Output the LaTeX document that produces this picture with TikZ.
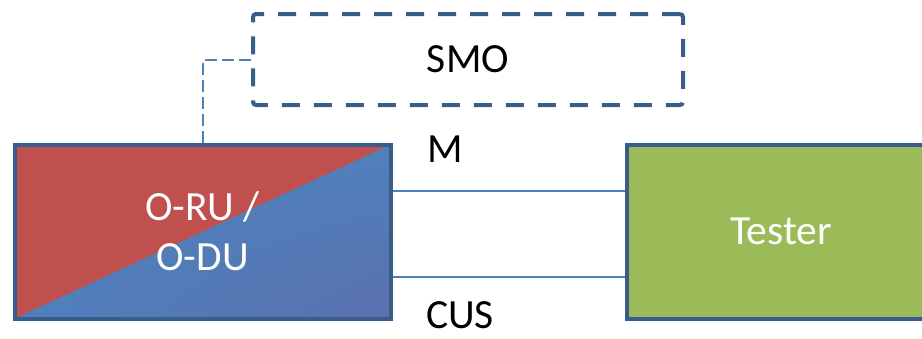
\documentclass[tikz,border=0pt]{standalone}
\usepackage{fontspec}
\setmainfont{Carlito}
\usetikzlibrary{shadings}
\definecolor{edgeblue}{HTML}{385D8A}
\definecolor{linkblue}{HTML}{4F81BD}
\definecolor{ranred}{HTML}{C0504D}
\definecolor{ranblue}{HTML}{4F81BD}
\definecolor{ranblue2}{HTML}{5A70AD}
\definecolor{testgreen}{HTML}{9BBB59}
\tikzset{
  bigtext/.style={font=\fontsize{41.5}{50}\selectfont},
  unitbox/.style={draw=edgeblue, line width=4pt, inner sep=0pt, bigtext, text=white, align=center},
  smobox/.style={draw=edgeblue, line width=4pt, dash pattern=on 18pt off 14pt, rounded corners=3pt, inner sep=0pt, bigtext},
  link/.style={draw=linkblue, line width=2pt},
  mgmtlink/.style={draw=linkblue, line width=2pt, dash pattern=on 12pt off 5pt},
  portlabel/.style={bigtext, inner sep=0pt, anchor=base west}
}
\begin{document}
\begin{tikzpicture}[x=1pt, y=-1pt]
\useasboundingbox (0,0) rectangle (922,338);
\begin{scope}
\clip (0,0) rectangle (922,338);
% O-RU / O-DU unit, split diagonally
\node[unitbox, minimum width=376pt, minimum height=174pt,
  path picture={
    \shade[upper left=ranblue, upper right=ranblue, lower left=ranblue, lower right=ranblue2]
      (path picture bounding box.south west) rectangle (path picture bounding box.north east);
    \fill[ranred] (path picture bounding box.south west) -- (path picture bounding box.north west)
      -- (path picture bounding box.north east) -- cycle;
  }] (oran) at (202.5,231.5) {O-RU /\\O-DU};
% Tester, running off the right edge
\node[unitbox, fill=testgreen, minimum width=308pt, minimum height=174pt] (tester) at (781,231.5) {Tester};
% SMO
\node[smobox, minimum width=430pt, minimum height=91pt] (smo) at (468,59.5) {SMO};
% links
\draw[link] (oran.east |- 0,190.5) -- (tester.west |- 0,190.5);
\draw[link] (oran.east |- 0,277) -- (tester.west |- 0,277);
\draw[mgmtlink] (oran.north -| 203,0) |- (smo.west);
% plane labels
\node[portlabel] (mlabel) at (427,162) {M};
\node[portlabel] (cuslabel) at (426,328) {CUS};
\end{scope}
\end{tikzpicture}
\end{document}
